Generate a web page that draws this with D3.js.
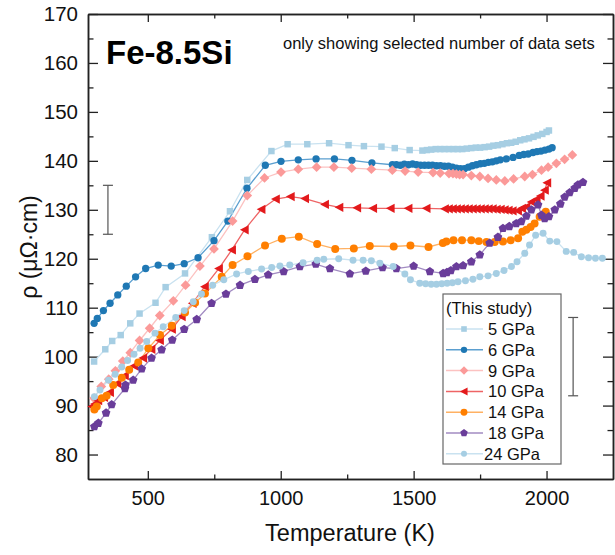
<!DOCTYPE html>
<html>
<head>
<meta charset="utf-8">
<script src="https://cdn.jsdelivr.net/npm/d3@7"></script>
<style>
  body { margin: 0; background: #fff; }
  svg { display: block; font-family: Arial, "Liberation Sans", sans-serif; }
</style>
</head>
<body>
<svg id="chart" width="615" height="555"></svg>
<script>
// [temperature K, resistivity µΩ·cm]
const gpa5 = [[298,99.0],[340,101.5],[366,103.2],[398,104.4],[434,106.8],[469,108.8],[529,111.0],[567,114.2],[640,117.0],
  [741,124.4],[809,129.7],[874,136.1],[965,142.0],[1026,143.4],[1100,143.4],[1182,143.6],[1255,143.2],[1313,143.0],
  [1379,142.9],[1429,142.6],[1485,142.2],[1533,142.1],[1550,142.2],[1566,142.3],[1583,142.4],[1600,142.4],[1616,142.4],
  [1633,142.4],[1650,142.4],[1666,142.4],[1683,142.4],[1700,142.5],[1717,142.6],[1734,142.7],[1750,142.7],[1767,142.8],
  [1784,142.9],[1800,143.1],[1817,143.2],[1834,143.4],[1851,143.6],[1867,143.7],[1884,143.9],[1901,144.2],[1917,144.4],
  [1934,144.6],[1951,144.9],[1967,145.2],[1984,145.5],[2000,145.9],[2009,146.2]];
const gpa6 = [[298,106.8],[310,107.8],[333,109.4],[358,110.9],[387,112.6],[419,114.4],[454,116.3],[492,118.0],[539,118.7],
  [588,118.5],[637,119.0],[689,120.2],[749,123.7],[801,127.7],[873,134.4],[942,139.1],[1001,139.9],[1066,140.2],[1133,140.4],
  [1202,140.4],[1268,140.1],[1343,139.6],[1420,139.2],[1435,139.2],[1450,139.1],[1465,139.3],[1480,139.2],[1496,139.35],
  [1511,139.2],[1526,139.1],[1541,139.1],[1556,139.1],[1571,139.1],[1586,139.0],[1601,139.0],[1616,138.9],[1631,138.9],
  [1646,138.7],[1661,138.5],[1676,138.4],[1691,138.4],[1706,138.7],[1721,139.0],[1736,139.2],[1751,139.4],[1766,139.5],
  [1781,139.7],[1796,139.8],[1811,140.0],[1826,140.2],[1849,140.4],[1874,140.7],[1897,141.1],[1914,141.3],[1931,141.4],
  [1949,141.7],[1964,141.9],[1979,142.0],[1994,142.2],[2009,142.4],[2021,142.7]];
const gpa9 = [[298,91.5],[325,93.9],[353,95.4],[378,97.1],[406,99.1],[434,100.8],[469,103.3],[507,105.8],[545,108.4],
  [596,111.4],[642,114.6],[696,118.5],[749,122.0],[819,127.7],[874,132.9],[939,136.5],[1001,137.7],[1066,138.3],[1135,138.7],
  [1200,138.7],[1267,138.5],[1341,138.3],[1420,138.1],[1468,137.9],[1517,137.7],[1573,137.6],[1600,137.5],[1633,137.4],
  [1648,137.4],[1661,137.3],[1673,137.2],[1686,137.2],[1717,137.0],[1749,136.8],[1780,136.4],[1811,136.1],[1843,135.9],
  [1876,136.3],[1918,136.8],[1947,137.2],[1981,138.1],[2006,138.7],[2037,139.5],[2068,140.3],[2097,141.2]];
const gpa10 = [[290,89.8],[300,90.3],[313,91.0],[335,91.7],[357,92.7],[385,94.5],[413,96.1],[448,98.1],[482,99.7],
  [513,101.5],[545,103.3],[590,105.6],[627,108.2],[668,110.9],[714,114.3],[767,118.0],[816,121.8],[864,125.9],[927,130.1],
  [981,132.2],[1037,132.7],[1091,132.3],[1166,131.1],[1220,130.5],[1287,130.4],[1347,130.3],[1413,130.3],[1480,130.3],
  [1548,130.3],[1617,130.2],[1632,130.2],[1647,130.2],[1662,130.2],[1677,130.2],[1692,130.2],[1707,130.2],[1722,130.2],
  [1737,130.2],[1752,130.2],[1767,130.2],[1782,130.2],[1797,130.2],[1812,130.1],[1827,130.1],[1842,130.0],[1857,129.9],
  [1872,129.8],[1892,129.8],[1907,130.3],[1924,130.6],[1943,131.6],[1962,132.1],[1977,132.8],[1993,134.0],[2002,135.5]];
const gpa14 = [[299,89.2],[308,89.8],[327,91.5],[345,92.0],[370,94.2],[402,95.7],[430,97.3],[464,98.8],[502,101.7],
  [546,104.4],[590,106.3],[640,109.0],[678,111.0],[715,112.9],[778,116.3],[819,118.7],[875,120.5],[941,122.7],[1004,124.1],
  [1068,124.5],[1137,123.0],[1205,122.0],[1275,122.1],[1335,122.6],[1425,122.5],[1488,122.7],[1556,122.4],[1610,123.2],
  [1623,123.5],[1650,123.8],[1682,123.8],[1717,123.8],[1745,123.6],[1774,123.4],[1805,123.4],[1836,123.5],[1865,123.8],
  [1893,124.2],[1909,125.5],[1924,125.9],[1940,126.5],[1955,127.2],[1974,128.6],[1997,129.6]];
const gpa18 = [[299,85.7],[314,86.4],[343,88.5],[364,90.2],[414,93.5],[416,94.2],[445,95.2],[477,97.5],[514,99.7],
  [552,101.4],[592,103.4],[637,105.6],[684,107.6],[740,110.9],[794,112.8],[847,114.6],[903,115.8],[953,116.7],[1011,117.4],
  [1072,118.4],[1132,118.9],[1185,118.0],[1260,116.9],[1320,117.5],[1383,118.2],[1435,118.0],[1500,118.5],[1561,117.4],
  [1611,117.0],[1625,117.2],[1640,117.6],[1661,118.4],[1686,118.6],[1717,119.4],[1749,120.8],[1786,123.2],[1817,124.4],
  [1836,126.2],[1860,126.6],[1886,127.2],[1905,127.6],[1924,128.7],[1943,130.0],[1968,131.0],[1981,128.9],[1993,128.2],
  [2009,128.6],[2031,130.0],[2052,131.2],[2068,132.6],[2087,133.5],[2106,134.4],[2118,135.1],[2137,135.6]];
const gpa24 = [[299,91.8],[320,93.2],[352,95.2],[377,96.4],[402,97.9],[424,99.2],[448,100.5],[471,101.7],[496,103.1],
  [527,104.8],[558,106.1],[605,108.0],[637,109.4],[671,111.2],[702,112.8],[744,114.6],[786,115.7],[834,116.9],[878,117.4],
  [928,117.9],[966,118.2],[997,118.5],[1034,118.7],[1084,119.2],[1137,119.7],[1162,119.9],[1218,120.0],[1272,119.7],
  [1310,119.7],[1341,119.6],[1373,119.1],[1423,118.4],[1467,116.9],[1488,115.7],[1523,115.0],[1545,114.9],[1566,114.8],
  [1586,114.8],[1606,114.9],[1626,115.0],[1646,115.1],[1667,115.3],[1695,115.5],[1723,115.8],[1749,116.3],[1780,116.5],
  [1811,117.0],[1840,117.6],[1868,118.4],[1889,119.4],[1918,121.1],[1936,122.8],[1959,124.8],[1987,125.2],[2012,123.6],
  [2039,123.5],[2074,121.5],[2102,121.3],[2131,120.4],[2158,120.2],[2184,120.1],[2210,120.1]];

const labels = ["5 GPa", "6 GPa", "9 GPa", "10 GPa", "14 GPa", "18 GPa", "24 GPa"];
// error bars: [T, low, high]
const errBars = [[350, 125, 135], [2100, 92, 108]];
const xTicks = [500, 1000, 1500, 2000];
const xMinor = [750, 1250, 1750];
const yTicks = d3.range(80, 171, 10);
const yMinor = d3.range(85, 170, 10);

// custom marker shapes
const symDiamond = { draw(c, s) { const d = Math.sqrt(s / 2); c.moveTo(0, -d); c.lineTo(d, 0); c.lineTo(0, d); c.lineTo(-d, 0); c.closePath(); } };
const symLeftTri = { draw(c, s) { const a = Math.sqrt(s); c.moveTo(-a * 0.62, 0); c.lineTo(a * 0.55, -a * 0.62); c.lineTo(a * 0.55, a * 0.62); c.closePath(); } };
const symPentagon = { draw(c, s) { const r = Math.sqrt(s / 2.378); for (let i = 0; i < 5; i++) { const a = -Math.PI / 2 + i * 2 * Math.PI / 5; i ? c.lineTo(r * Math.cos(a), r * Math.sin(a)) : c.moveTo(r * Math.cos(a), r * Math.sin(a)); } c.closePath(); } };

const styles = [
  { data: gpa5,  color: "#a6cee3", line: "#c9e2f0", sym: d3.symbolSquare, size: 42 },
  { data: gpa6,  color: "#1f78b4", line: "#5b9fd0", sym: d3.symbolCircle, size: 42 },
  { data: gpa9,  color: "#fb9a99", line: "#fcc2c1", sym: symDiamond, size: 48 },
  { data: gpa10, color: "#e31a1c", line: "#ee6465", sym: symLeftTri, size: 56 },
  { data: gpa14, color: "#ff7f00", line: "#ffb163", sym: d3.symbolCircle, size: 50 },
  { data: gpa18, color: "#6a3d9a", line: "#a28bc2", sym: symPentagon, size: 50 },
  { data: gpa24, color: "#a6cee3", line: "#c9e2f0", sym: d3.symbolCircle, size: 38 }
];

const svg = d3.select("#chart");
const x = d3.scaleLinear().domain([275, 2250]).range([88, 613]);
const y = d3.scaleLinear().domain([75, 170]).range([479, 14]);

const axisColor = "#222";
function styleAxis(g, fs) {
  g.select(".domain").attr("stroke", axisColor).attr("stroke-width", 1.5);
  g.selectAll(".tick line").attr("stroke", axisColor).attr("stroke-width", 1.3);
  g.selectAll(".tick text").attr("fill", "#111").style("font-size", fs + "px").style("font-family", "Arial, 'Liberation Sans', sans-serif");
}

svg.append("g").attr("transform", "translate(0,479)")
  .call(d3.axisBottom(x).tickValues(xTicks).tickFormat(d3.format("d")).tickSize(-8).tickSizeOuter(0).tickPadding(12))
  .call(g => styleAxis(g, 20));
svg.append("g").attr("transform", "translate(0,479)")
  .call(d3.axisBottom(x).tickValues(xMinor).tickFormat("").tickSize(-4.5).tickSizeOuter(0))
  .call(g => styleAxis(g, 20));
svg.append("g").attr("transform", "translate(0,14)")
  .call(d3.axisTop(x).tickValues(xTicks).tickFormat("").tickSize(-8).tickSizeOuter(0))
  .call(g => styleAxis(g, 20));
svg.append("g").attr("transform", "translate(0,14)")
  .call(d3.axisTop(x).tickValues(xMinor).tickFormat("").tickSize(-4.5).tickSizeOuter(0))
  .call(g => styleAxis(g, 20));
svg.append("g").attr("transform", "translate(88,0)")
  .call(d3.axisLeft(y).tickValues(yTicks).tickSize(-10).tickSizeOuter(0).tickPadding(10))
  .call(g => styleAxis(g, 20.5));
svg.append("g").attr("transform", "translate(88,0)")
  .call(d3.axisLeft(y).tickValues(yMinor).tickFormat("").tickSize(-5.5).tickSizeOuter(0))
  .call(g => styleAxis(g, 20));
svg.append("g").attr("transform", "translate(613,0)")
  .call(d3.axisRight(y).tickValues(yTicks).tickFormat("").tickSize(-10).tickSizeOuter(0))
  .call(g => styleAxis(g, 20));
svg.append("g").attr("transform", "translate(613,0)")
  .call(d3.axisRight(y).tickValues(yMinor).tickFormat("").tickSize(-5.5).tickSizeOuter(0))
  .call(g => styleAxis(g, 20));

// axis titles
svg.append("text").attr("x", 350).attr("y", 541).attr("text-anchor", "middle")
  .style("font-size", "23.5px").attr("fill", "#111").text("Temperature (K)");
svg.append("text").attr("transform", "translate(37,247) rotate(-90)").attr("text-anchor", "middle")
  .style("font-size", "23px").attr("fill", "#111").text("ρ (μΩ·cm)");

// error bars
const eb = svg.append("g").attr("stroke", "#555").attr("stroke-width", 1.2);
errBars.forEach(d => {
  const cx = x(d[0]);
  eb.append("line").attr("x1", cx).attr("x2", cx).attr("y1", y(d[1])).attr("y2", y(d[2]));
  eb.append("line").attr("x1", cx - 5).attr("x2", cx + 5).attr("y1", y(d[1])).attr("y2", y(d[1]));
  eb.append("line").attr("x1", cx - 5).attr("x2", cx + 5).attr("y1", y(d[2])).attr("y2", y(d[2]));
});

// series
const lineGen = d3.line().x(d => x(d[0])).y(d => y(d[1]));
const plot = svg.append("g");
styles.forEach(s => {
  plot.append("path").datum(s.data).attr("d", lineGen)
    .attr("fill", "none").attr("stroke", s.line).attr("stroke-width", 1.3);
});
styles.forEach(s => {
  plot.append("g").selectAll("path").data(s.data).join("path")
    .attr("transform", d => `translate(${x(d[0])},${y(d[1])})`)
    .attr("d", d3.symbol().type(s.sym).size(s.size))
    .attr("fill", s.color);
});

// annotations
svg.append("text").attr("x", 106).attr("y", 64).style("font-size", "33px").style("font-weight", "bold")
  .attr("fill", "#000").text("Fe-8.5Si");
svg.append("text").attr("x", 283).attr("y", 49).style("font-size", "16.5px")
  .attr("fill", "#111").text("only showing selected number of data sets");

// legend
const lg = svg.append("g");
lg.append("rect").attr("x", 443).attr("y", 294).attr("width", 118).attr("height", 170)
  .attr("fill", "#fff").attr("stroke", "#666").attr("stroke-width", 1.2);
lg.append("text").attr("x", 446).attr("y", 314).style("font-size", "16.5px").attr("fill", "#111").text("(This study)");
styles.forEach((s, i) => {
  const cy = 329 + i * 20.8;
  lg.append("line").attr("x1", 446).attr("x2", 483).attr("y1", cy).attr("y2", cy)
    .attr("stroke", s.line).attr("stroke-width", 1.5);
  lg.append("path").attr("transform", `translate(464,${cy})`)
    .attr("d", d3.symbol().type(s.sym).size(s.size * 0.75)).attr("fill", s.color);
  lg.append("text").attr("x", i === 6 ? 484 : 488).attr("y", cy + 6).style("font-size", "16.5px")
    .attr("fill", "#111").text(labels[i]);
});
</script>
</body>
</html>
